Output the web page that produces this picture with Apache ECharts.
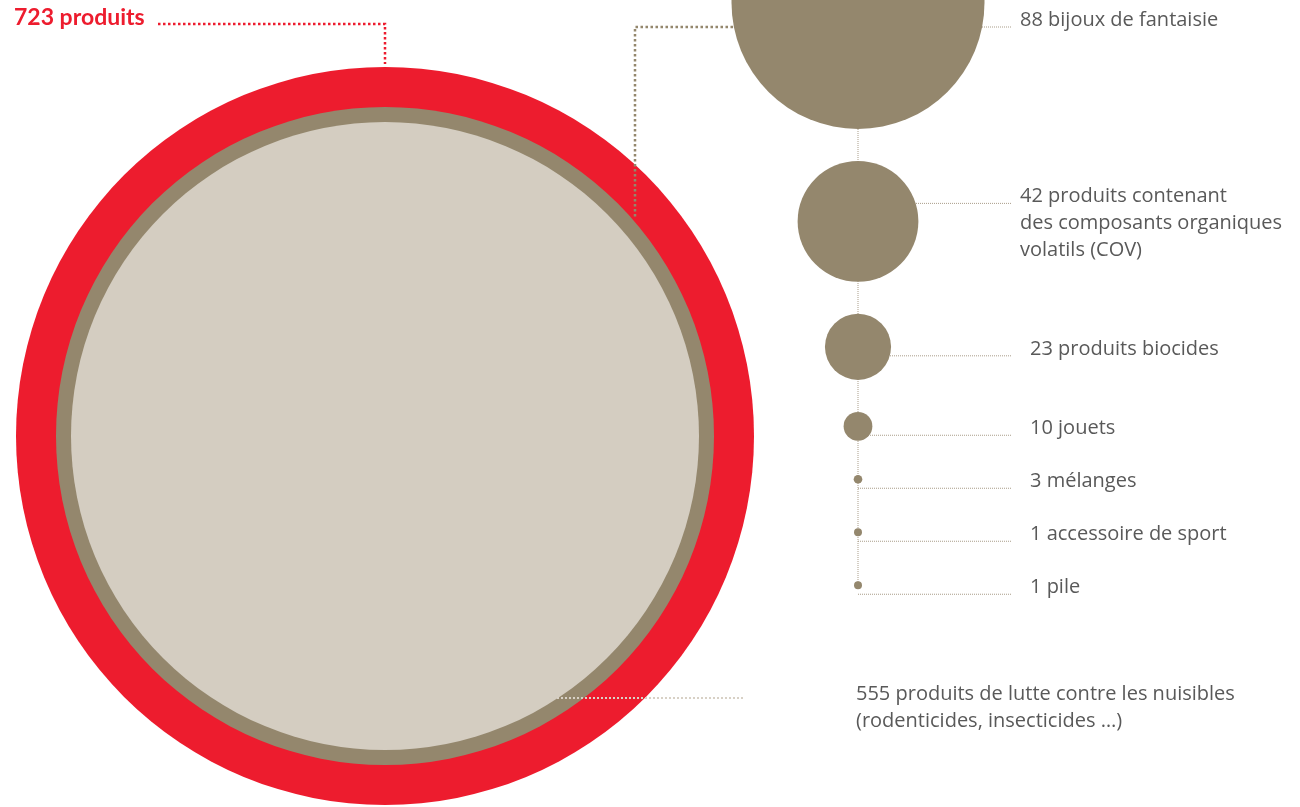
<!DOCTYPE html>
<html>
<head>
<meta charset="utf-8">
<script src="https://cdn.jsdelivr.net/npm/echarts@6/dist/echarts.min.js"></script>
<style>
  html, body { margin: 0; padding: 0; background: #fff; }
  #chart { width: 1300px; height: 807px; }
</style>
</head>
<body>
<div id="chart"></div>
<script>
var chart = echarts.init(document.getElementById('chart'));

// data
let categories = ['bijoux de fantaisie', 'produits contenant\ndes composants organiques\nvolatils (COV)',
    'produits biocides', 'jouets', 'mélanges', 'accessoire de sport', 'pile'];
let counts = [88, 42, 23, 10, 3, 1, 1];
let totalCount = 723;
let pestCount = 555;
let totalLabel = totalCount + ' produits';
let pestLabel = pestCount + ' produits de lutte contre les nuisibles\n(rodenticides, insecticides …)';

// colours
let red = '#ed1c2e';
let brown = '#94876d';
let beige = '#d4cdc1';
let grey = '#595959';

// layout (pixel units of the hidden axes)
let big = { x: 385, y: 436, d: 738, ring: 40, band: 15 };
let colX = 858;
let pxPerUnit = 2.875;     // diameter per product
let gap = 32, minStep = 53;
let lineH = 27;

// stack small circles top-down
let sizes = counts.map(v => Math.max(v * pxPerUnit, 8));
let ys = [];
sizes.forEach((s, i) => {
    if (i === 0) { ys.push(s / 2 - 124); return; }
    let prev = ys[i - 1];
    let y = prev + sizes[i - 1] / 2 + gap + s / 2;
    ys.push(Math.max(y, prev + minStep));
});
let labelY = ys.map(y => Math.max(y + 2, 20));

let circleData = counts.map((v, i) => ({ value: [colX, ys[i]], symbolSize: sizes[i] }));
let labelData = counts.map((v, i) => ({
    name: v + ' ' + categories[i],
    value: [i < 2 ? 1020 : 1030, labelY[i]]
}));
labelData.push({ name: pestLabel, value: [856, 708] });

let connectors = counts.map((v, i) => {
    let n = categories[i].split('\n').length;
    let y = labelY[i] - (n - 1) * lineH / 2 + 7;
    return { coords: [[colX, y], [1012, y]] };
});

let dotted = (color, width) => ({ color: color, width: width, type: 'dotted', opacity: 1 });

option = {
    backgroundColor: '#ffffff',
    animation: false,
    grid: { left: 0, right: 0, top: 0, bottom: 0 },
    xAxis: { type: 'value', min: 0, max: 1300, show: false },
    yAxis: { type: 'value', min: 0, max: 807, inverse: true, show: false },
    series: [
        {
            // total / pest control circles
            type: 'scatter',
            clip: false,
            silent: true,
            z: 1,
            data: [
                { value: [big.x, big.y], symbolSize: big.d, itemStyle: { color: red, opacity: 1 } },
                { value: [big.x, big.y], symbolSize: big.d - 2 * big.ring, itemStyle: { color: brown, opacity: 1 } },
                { value: [big.x, big.y], symbolSize: big.d - 2 * big.ring - 2 * big.band, itemStyle: { color: beige, opacity: 1 } }
            ]
        },
        {
            type: 'lines',
            coordinateSystem: 'cartesian2d',
            polyline: true,
            silent: true,
            z: 2,
            data: [
                { coords: [[colX, 3], [colX, ys[ys.length - 1]]], lineStyle: dotted('#a99d89', 1) },
                { coords: connectors[0].coords.slice(0, 1).concat([[635, 27], [635, 218]]), lineStyle: dotted(brown, 2.5) },
                { coords: [[557, 698], [745, 698]], lineStyle: dotted('#d8d1c6', 2) },
                { coords: [[158, 24], [big.x, 24], [big.x, big.y - big.d / 2 - 3]], lineStyle: dotted(red, 2.5) }
            ].concat(connectors.map(c => ({ coords: c.coords, lineStyle: dotted('#a99d89', 1) })))
        },
        {
            type: 'scatter',
            clip: false,
            silent: true,
            z: 3,
            itemStyle: { color: brown, opacity: 1 },
            data: circleData
        },
        {
            type: 'scatter',
            clip: false,
            silent: true,
            z: 4,
            symbolSize: 0,
            itemStyle: { opacity: 1 },
            data: labelData,
            label: {
                show: true,
                position: 'right',
                distance: 0,
                formatter: p => p.name,
                fontFamily: 'Open Sans',
                fontSize: 20,
                lineHeight: lineH,
                color: grey
            }
        },
        {
            type: 'scatter',
            clip: false,
            silent: true,
            z: 4,
            symbolSize: 0,
            itemStyle: { opacity: 1 },
            data: [{ name: totalLabel, value: [14, 18] }],
            label: {
                show: true,
                position: 'right',
                distance: 0,
                formatter: p => p.name,
                fontFamily: 'Lato',
                fontWeight: 'bold',
                fontSize: 23,
                color: red
            }
        }
    ]
};
chart.setOption(option);
</script>
</body>
</html>
